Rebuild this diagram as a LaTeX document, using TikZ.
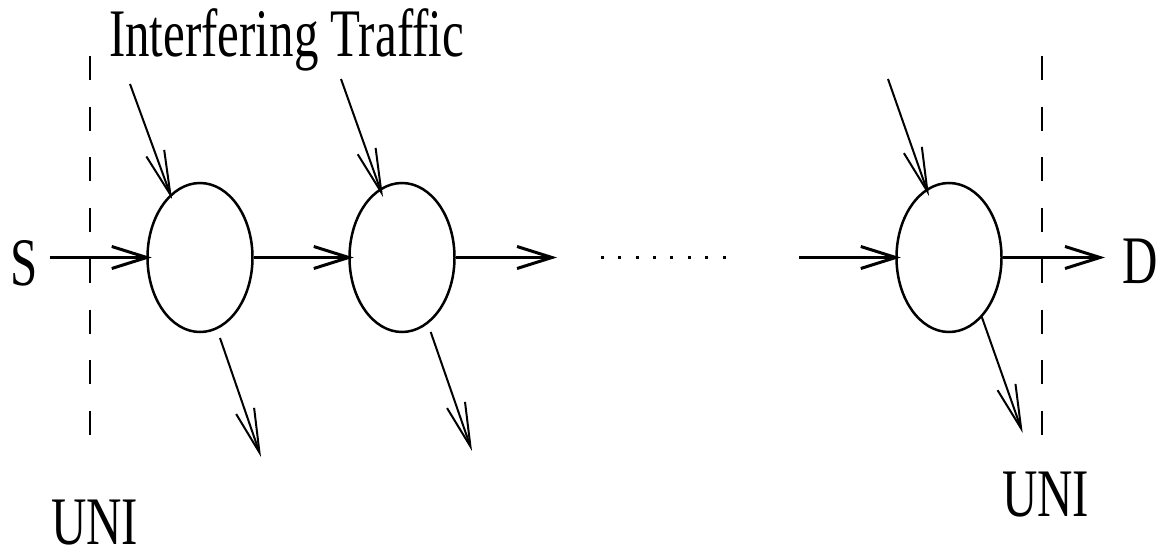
\documentclass[tikz,border=0pt]{standalone}
\usepackage{fontspec}
\setmainfont{Liberation Serif}
\usetikzlibrary{arrows.meta,shapes.geometric,calc}
\newcommand{\narrow}[1]{\scalebox{0.72}[1]{#1}}
\begin{document}
\begin{tikzpicture}[x=1pt,y=-1pt,
  hop/.style={ellipse, draw, line width=2.5pt, minimum width=105pt,
    minimum height=149pt, inner sep=0pt},
  flow/.style={line width=3pt, -{Straight Barb[length=35pt,width=22pt]}},
  side/.style={line width=2pt, -{Straight Barb[length=44pt,width=19pt]}},
  uni/.style={line width=2pt, dash pattern=on 24pt off 26.7pt},
  lbl/.style={inner sep=0pt, anchor=base west,
    font=\fontsize{68}{80}\selectfont}
]
\useasboundingbox (0,0) rectangle (1161,548);

% switching hops along the path
\node[hop] (n1) at (200,257.5) {};
\node[hop] (n2) at (402,257.5) {};
\node[hop] (n3) at (949,257.5) {};

% labels
\node[lbl] (src) at (10,285) {\narrow{S}};
\node[lbl] (dst) at (1122,283) {\narrow{D}};
\node[lbl] (it) at (109,57) {\narrow{Interfering Traffic}};
\node[lbl] (unil) at (51,544) {\narrow{UNI}};
\node[lbl] (unir) at (1002,516) {\narrow{UNI}};

% free ends of the connectors
\coordinate (s-out) at (50,257.5);
\coordinate (gap-in) at (557,257.5);
\coordinate (gap-out) at (799,257.5);
\coordinate (d-in) at (1105,257.5);
\coordinate (x1) at (130,84);
\coordinate (x2) at (341,79);
\coordinate (x3) at (888,79);
\coordinate (o1) at (261,457);
\coordinate (o2) at (472,451);
\coordinate (o3) at (1022.7,433);

% user-network interface boundaries
\coordinate (ul-top) at (90,56);
\coordinate (ul-bot) at (90,435);
\coordinate (ur-top) at (1042,56);
\coordinate (ur-bot) at (1042,435);
\draw[uni] (ul-top) -- (ul-bot);
\draw[uni] (ur-top) -- (ur-bot);

% main flow S -> D
\draw[flow] (s-out) -- ($(n1.west)+(5.5,0)$);
\draw[flow] (n1.east) -- ($(n2.west)+(5.5,0)$);
\draw[flow] (n2.east) -- (gap-in);
\draw[flow] (gap-out) -- ($(n3.west)+(5.5,0)$);
\draw[flow] (n3.east) -- (d-in);

% elided hops
\foreach \i in {0,...,7}
  \fill ({602.3+17.4*\i-1.5},256) rectangle +(3,3);

% cross traffic entering
\draw[side] (x1) -- ($(n1)+(-28,-58.5)$);
\draw[side] (x2) -- ($(n2)+(-19,-60.5)$);
\draw[side] (x3) -- ($(n3)+(-20,-61.5)$);

% cross traffic leaving
\draw[side] ($(n1)+(20,80.5)$) -- (o1);
\draw[side] ($(n2)+(28.7,74.5)$) -- (o2);
\draw[side] ($(n3)+(32.7,59.2)$) -- (o3);
\end{tikzpicture}
\end{document}
